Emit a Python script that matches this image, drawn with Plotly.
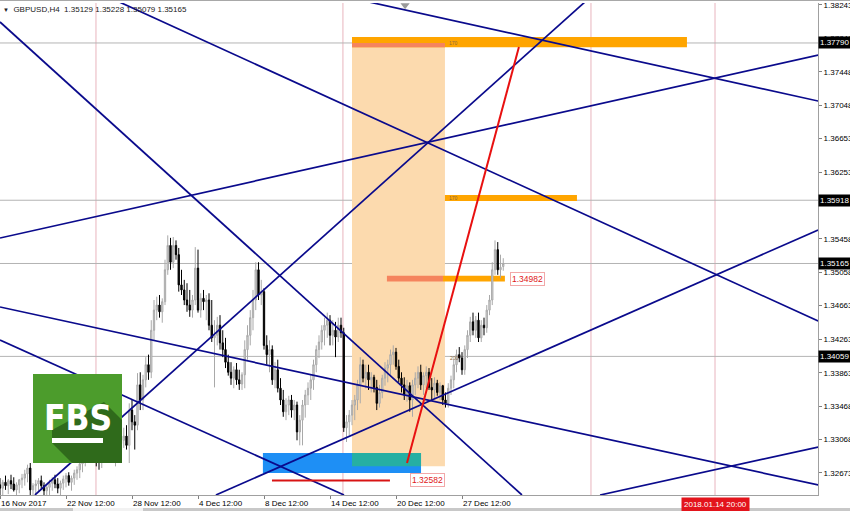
import plotly.graph_objects as go

# ---------------- data (bar index, price) ----------------
bar_index = list(range(184))
opens = [1.3253,1.3249,1.3256,1.3252,1.3258,1.3254,1.3247,1.3253,1.3259,1.3261,1.3266,1.3273,1.3247,1.3252,1.3254,1.3258,1.3252,1.3246,1.3250,1.3255,
1.3259,1.3254,1.3249,1.3255,1.3260,1.3264,1.3256,1.3261,1.3267,1.3271,1.3278,1.3285,1.3289,1.3295,1.3292,1.3287,1.3283,1.3280,1.3291,1.3299,
1.3296,1.3292,1.3287,1.3295,1.3302,1.3306,1.3311,1.3300,1.3342,1.3328,1.3324,1.3372,1.3354,1.3378,1.3396,1.3387,1.3437,1.3461,1.3467,1.3459,
1.3471,1.3509,1.3538,1.3518,1.3538,1.3527,1.3491,1.3485,1.3473,1.3467,1.3461,1.3473,1.3511,1.3461,1.3475,1.3471,1.3473,1.3443,1.3428,1.3431,
1.3443,1.3422,1.3414,1.3399,1.3387,1.3380,1.3390,1.3378,1.3373,1.3384,1.3414,1.3431,1.3452,1.3473,1.3509,1.3479,1.3483,1.3419,1.3408,1.3414,
1.3378,1.3390,1.3368,1.3354,1.3340,1.3348,1.3354,1.3342,1.3348,1.3316,1.3330,1.3348,1.3360,1.3368,1.3378,1.3396,1.3414,1.3423,1.3437,1.3443,
1.3449,1.3431,1.3437,1.3429,1.3443,1.3434,1.3321,1.3328,1.3336,1.3348,1.3354,1.3372,1.3396,1.3380,1.3387,1.3378,1.3381,1.3369,1.3350,1.3363,
1.3380,1.3392,1.3396,1.3408,1.3411,1.3394,1.3380,1.3372,1.3360,1.3371,1.3354,1.3372,1.3380,1.3387,1.3372,1.3383,1.3387,1.3369,1.3366,1.3374,
1.3363,1.3371,1.3354,1.3350,1.3368,1.3378,1.3396,1.3408,1.3404,1.3390,1.3414,1.3431,1.3447,1.3437,1.3449,1.3428,1.3443,1.3440,1.3461,1.3473,
1.3509,1.3533,1.3509,1.35129]
highs = [1.3261,1.3259,1.3264,1.3260,1.3265,1.3262,1.3256,1.3260,1.3266,1.3271,1.3277,1.3279,1.3255,1.3259,1.3261,1.3264,1.3256,1.3254,1.3259,1.3262,
1.3265,1.3261,1.3258,1.3264,1.3267,1.3268,1.3264,1.3271,1.3275,1.3283,1.3289,1.3295,1.3299,1.3302,1.3300,1.3297,1.3292,1.3295,1.3304,1.3309,
1.3306,1.3302,1.3299,1.3306,1.3316,1.3321,1.3324,1.3350,1.3354,1.3336,1.3386,1.3387,1.3384,1.3405,1.3408,1.3449,1.3473,1.3477,1.3479,1.3475,
1.3521,1.3550,1.3547,1.3548,1.3544,1.3535,1.3509,1.3497,1.3493,1.3485,1.3479,1.3536,1.3533,1.3481,1.3485,1.3479,1.3481,1.3473,1.3449,1.3453,
1.3455,1.3437,1.3428,1.3408,1.3399,1.3394,1.3398,1.3390,1.3387,1.3425,1.3443,1.3461,1.3485,1.3518,1.3518,1.3497,1.3487,1.3431,1.3425,1.3419,
1.3399,1.3402,1.3380,1.3366,1.3356,1.3359,1.3360,1.3354,1.3352,1.3336,1.3354,1.3366,1.3375,1.3384,1.3402,1.3419,1.3431,1.3443,1.3452,1.3458,
1.3455,1.3449,1.3447,1.3452,1.3452,1.3440,1.3336,1.3342,1.3354,1.3360,1.3378,1.3405,1.3402,1.3396,1.3396,1.3387,1.3384,1.3378,1.3372,1.3384,
1.3399,1.3402,1.3414,1.3419,1.3416,1.3402,1.3387,1.3381,1.3378,1.3375,1.3378,1.3387,1.3394,1.3396,1.3387,1.3394,1.3392,1.3380,1.3381,1.3378,
1.3375,1.3372,1.3363,1.3374,1.3383,1.3402,1.3414,1.3417,1.3411,1.3419,1.3437,1.3453,1.3458,1.3454,1.3458,1.3449,1.3452,1.3467,1.3479,1.3518,
1.3544,1.3542,1.3527,1.35228]
lows = [1.3237,1.3240,1.3247,1.3242,1.3248,1.3245,1.3237,1.3243,1.3249,1.3252,1.3256,1.3239,1.3235,1.3242,1.3245,1.3247,1.3239,1.3236,1.3241,1.3246,
1.3249,1.3243,1.3240,1.3247,1.3250,1.3252,1.3246,1.3253,1.3259,1.3261,1.3268,1.3275,1.3280,1.3285,1.3280,1.3275,1.3271,1.3273,1.3285,1.3289,
1.3283,1.3280,1.3275,1.3285,1.3292,1.3297,1.3295,1.3279,1.3318,1.3295,1.3318,1.3342,1.3342,1.3369,1.3378,1.3380,1.3425,1.3449,1.3452,1.3446,
1.3467,1.3503,1.3509,1.3511,1.3521,1.3483,1.3479,1.3467,1.3459,1.3453,1.3452,1.3467,1.3458,1.3452,1.3461,1.3449,1.3437,1.3423,1.3369,1.3419,
1.3414,1.3405,1.3392,1.3383,1.3372,1.3368,1.3372,1.3366,1.3366,1.3368,1.3402,1.3419,1.3437,1.3461,1.3473,1.3467,1.3414,1.3396,1.3387,1.3372,
1.3368,1.3363,1.3348,1.3334,1.3330,1.3336,1.3333,1.3330,1.3306,1.3300,1.3300,1.3333,1.3348,1.3354,1.3366,1.3387,1.3404,1.3414,1.3419,1.3428,
1.3419,1.3419,1.3405,1.3423,1.3428,1.3316,1.3304,1.3312,1.3324,1.3330,1.3342,1.3350,1.3375,1.3368,1.3366,1.3363,1.3363,1.3342,1.3345,1.3356,
1.3371,1.3375,1.3384,1.3396,1.3390,1.3375,1.3363,1.3354,1.3352,1.3340,1.3334,1.3360,1.3368,1.3366,1.3360,1.3368,1.3366,1.3354,1.3356,1.3359,
1.3354,1.3348,1.3345,1.3345,1.3360,1.3368,1.3387,1.3399,1.3384,1.3384,1.3404,1.3423,1.3431,1.3428,1.3423,1.3423,1.3431,1.3434,1.3455,1.3467,
1.3503,1.3503,1.3499,1.35079]
closes = [1.3249,1.3256,1.3252,1.3258,1.3254,1.3247,1.3253,1.3259,1.3261,1.3266,1.3273,1.3247,1.3252,1.3254,1.3258,1.3252,1.3246,1.3250,1.3255,1.3259,
1.3254,1.3249,1.3255,1.3260,1.3264,1.3256,1.3261,1.3267,1.3271,1.3278,1.3285,1.3289,1.3295,1.3292,1.3287,1.3283,1.3280,1.3291,1.3299,1.3296,
1.3292,1.3287,1.3295,1.3302,1.3306,1.3311,1.3300,1.3342,1.3328,1.3324,1.3372,1.3354,1.3378,1.3396,1.3387,1.3437,1.3461,1.3467,1.3459,1.3471,
1.3509,1.3538,1.3518,1.3538,1.3527,1.3491,1.3485,1.3473,1.3467,1.3461,1.3473,1.3511,1.3461,1.3475,1.3471,1.3473,1.3443,1.3428,1.3431,1.3443,
1.3422,1.3414,1.3399,1.3387,1.3380,1.3390,1.3378,1.3373,1.3384,1.3414,1.3431,1.3452,1.3473,1.3509,1.3479,1.3483,1.3419,1.3408,1.3414,1.3378,
1.3390,1.3368,1.3354,1.3340,1.3348,1.3354,1.3342,1.3348,1.3316,1.3330,1.3348,1.3360,1.3368,1.3378,1.3396,1.3414,1.3423,1.3437,1.3443,1.3449,
1.3431,1.3437,1.3429,1.3443,1.3434,1.3321,1.3328,1.3336,1.3348,1.3354,1.3372,1.3396,1.3380,1.3387,1.3378,1.3381,1.3369,1.3350,1.3363,1.3380,
1.3392,1.3396,1.3408,1.3411,1.3394,1.3380,1.3372,1.3360,1.3371,1.3354,1.3372,1.3380,1.3387,1.3372,1.3383,1.3387,1.3369,1.3366,1.3374,1.3363,
1.3371,1.3354,1.3350,1.3368,1.3378,1.3396,1.3408,1.3404,1.3390,1.3414,1.3431,1.3447,1.3437,1.3449,1.3428,1.3443,1.3440,1.3461,1.3473,1.3509,
1.3533,1.3509,1.3512,1.35165]

date_tick_bars = [0, 24, 48, 72, 96, 120, 144, 168]
date_tick_labels = ["16 Nov 2017", "22 Nov 12:00", "28 Nov 12:00", "4 Dec 12:00",
                    "8 Dec 12:00", "14 Dec 12:00", "20 Dec 12:00", "27 Dec 12:00"]
price_ticks = [1.38243, 1.37848, 1.37448, 1.37048, 1.36653, 1.36253, 1.35458,
               1.35058, 1.34663, 1.34263, 1.33863, 1.33468, 1.33068, 1.32673]
price_tick_labels = ["1.38243", "1.37848", "1.37448", "1.37048", "1.36653", "1.36253", "1.35458",
                     "1.35058", "1.34663", "1.34263", "1.33863", "1.33468", "1.33068", "1.32673"]

level_prices = [1.37790, 1.35918, 1.35165, 1.34059]
level_labels = ["1.37790", "1.35918", "1.35165", "1.34059"]
separator_bars = [34.9, 124.7, 214.9, 260.0]

# trend lines: start bar, start price, end bar, end price
trend_x0 = [0.0, 41.8, 130.9, 12.7, 0.0, 78.5, 0.0, 0.0, 218.2]
trend_p0 = [1.38040, 1.38302, 1.38302, 1.32409, 1.35468, 1.32409, 1.34254, 1.34647, 1.32409]
trend_x1 = [189.8, 297.5, 297.5, 213.5, 297.5, 297.5, 125.1, 297.5, 297.5]
trend_p1 = [1.32409, 1.34480, 1.37099, 1.38302, 1.37647, 1.35564, 1.32409, 1.32528, 1.32980]
red_line_bars = [148.0, 188.7]
red_line_prices = [1.32790, 1.37742]

# zones: bar from, bar to, price low, price high, colour
zone_x0 = [128.0, 95.6, 128.0, 128.0, 128.0, 161.8, 161.1, 140.7]
zone_x1 = [161.8, 153.1, 153.1, 249.8, 161.8, 209.8, 183.6, 161.1]
zone_p0 = [1.3275, 1.3267, 1.3275, 1.3774, 1.3774, 1.3591, 1.3495, 1.3495]
zone_p1 = [1.3779, 1.3291, 1.3291, 1.3786, 1.3779, 1.3598, 1.3502, 1.3502]
zone_colors = ["#FCDAAE", "#1E8FF5", "#26AFA3", "#FFA500", "#F5845E", "#FFA500", "#FFA500", "#F5845E"]

support_bars = [98.9, 141.8]
support_price = 1.32582
label_bars = [149.0, 185.5]
label_prices = [1.32582, 1.34982]
label_texts = ["1.32582", "1.34982"]
fib_bars = [162.5, 162.5, 163.0]
fib_prices = [1.3779, 1.3594, 1.3404]
fib_texts = ["170", "170", "200"]

# ---------------- figure ----------------
W, H = 850, 511
ML, MR, MT, MB = 0, 32, 3, 16
PW, PH = W - ML - MR, H - MT - MB
FONT = "Liberation Sans, Arial, sans-serif"
LOGO_FONT = "DejaVu Sans Condensed, DejaVu Sans, sans-serif"
NAVY = "#0A0A8C"


def px(x):
    return (x - ML) / PW


def py(y):
    return (H - MB - y) / PH


fig = go.Figure()

fig.add_trace(go.Candlestick(
    x=bar_index, open=opens, high=highs, low=lows, close=closes,
    increasing=dict(line=dict(color="#A9A9A9", width=1), fillcolor="#D6D6D6"),
    decreasing=dict(line=dict(color="#000000", width=1), fillcolor="#000000"),
    whiskerwidth=0, hoverinfo="skip", showlegend=False))

for x0, p0, x1, p1 in zip(trend_x0, trend_p0, trend_x1, trend_p1):
    fig.add_trace(go.Scatter(x=[x0, x1], y=[p0, p1], mode="lines",
                             line=dict(color=NAVY, width=1.7), hoverinfo="skip", showlegend=False))

fig.add_trace(go.Scatter(x=support_bars, y=[support_price, support_price], mode="lines",
                         line=dict(color="#D81414", width=2), hoverinfo="skip", showlegend=False))
fig.add_trace(go.Scatter(x=red_line_bars, y=red_line_prices, mode="lines",
                         line=dict(color="#E81010", width=2), hoverinfo="skip", showlegend=False))
fig.add_trace(go.Scatter(x=[147.3], y=[1.3824], mode="markers", cliponaxis=False,
                         marker=dict(symbol="triangle-down", size=8, color="#9A9A9A"),
                         hoverinfo="skip", showlegend=False))

shapes = []
for x0, x1, p0, p1, c in zip(zone_x0, zone_x1, zone_p0, zone_p1, zone_colors):
    shapes.append(dict(type="rect", xref="x", yref="y", x0=x0, x1=x1, y0=p0, y1=p1,
                       fillcolor=c, line=dict(width=0), layer="below"))
for b in separator_bars:
    shapes.append(dict(type="line", xref="x", yref="paper", x0=b, x1=b, y0=0, y1=1,
                       line=dict(color="#E8B4BE", width=1), layer="below"))
for p in level_prices:
    shapes.append(dict(type="line", xref="paper", yref="y", x0=0, x1=1, y0=p, y1=p,
                       line=dict(color="#B4B4B4", width=1), layer="below"))

# frame decorations
shapes.append(dict(type="line", xref="paper", yref="paper", x0=0, x1=px(W), y0=py(0.5), y1=py(0.5),
                   line=dict(color="#A8A8A8", width=1)))
shapes.append(dict(type="rect", xref="paper", yref="paper", x0=0, x1=px(W), y0=py(511), y1=py(508),
                   fillcolor="#C8C8C8", line=dict(width=0)))
shapes.append(dict(type="rect", xref="paper", yref="paper", x0=px(73), x1=px(143), y0=py(511), y1=py(508),
                   fillcolor="#F2F2F2", line=dict(width=0)))

# FBS logo
shapes.append(dict(type="rect", xref="paper", yref="paper", x0=px(33), x1=px(122), y0=py(463), y1=py(374),
                   fillcolor="#4C9C2C", line=dict(width=0), layer="above"))
pts = [(52, 430), (104, 402), (122, 420), (122, 463), (72, 463), (52, 443)]
path = "M " + " L ".join(f"{px(a):.5f},{py(b):.5f}" for a, b in pts) + " Z"
shapes.append(dict(type="path", xref="paper", yref="paper", path=path,
                   fillcolor="#2F6A1B", line=dict(width=0), layer="above"))
shapes.append(dict(type="rect", xref="paper", yref="paper", x0=px(52), x1=px(103), y0=py(443), y1=py(438),
                   fillcolor="white", line=dict(width=0), layer="above"))

annotations = [
    dict(xref="paper", yref="paper", x=px(78), y=py(418), text="<b>FBS</b>", showarrow=False,
         font=dict(family=LOGO_FONT, size=35, color="white"), xanchor="center", yanchor="middle"),
    dict(xref="paper", yref="paper", x=px(1), y=py(9), xanchor="left", yanchor="middle", showarrow=False,
         text="<span style='font-size:6px'>▼</span>  GBPUSD,H4  1.35129 1.35228 1.35079 1.35165",
         font=dict(family=FONT, size=8, color="#202020")),
    dict(xref="x", yref="paper", x=681 / 2.75, y=py(497), xanchor="left", yanchor="top", showarrow=False,
         text="2018.01.14 20:00", bgcolor="#E3141C", borderpad=2,
         font=dict(family=FONT, size=8, color="white")),
]
for p, t in zip(level_prices, level_labels):
    annotations.append(dict(xref="paper", yref="y", x=1, y=p, xanchor="left", yanchor="middle",
                            showarrow=False, text=t, bgcolor="black", borderpad=1, xshift=0,
                            font=dict(family=FONT, size=8, color="white")))
for b, p, t in zip(label_bars, label_prices, label_texts):
    annotations.append(dict(xref="x", yref="y", x=b, y=p, xanchor="left", yanchor="middle",
                            showarrow=False, text=t, bgcolor="white", bordercolor="#F2A8A8",
                            borderwidth=1, borderpad=1, font=dict(family=FONT, size=8.5, color="#E01818")))
for b, p, t in zip(fib_bars, fib_prices, fib_texts):
    annotations.append(dict(xref="x", yref="y", x=b, y=p, xanchor="left", yanchor="middle",
                            showarrow=False, text=t, font=dict(family=FONT, size=5, color="#8A6A40")))

fig.update_layout(
    width=W, height=H, margin=dict(l=ML, r=MR, t=MT, b=MB, pad=0, autoexpand=False),
    paper_bgcolor="white", plot_bgcolor="white", showlegend=False, hovermode=False,
    shapes=shapes, annotations=annotations,
    xaxis=dict(range=[0, PW / 2.75], tickmode="array", tickvals=date_tick_bars, ticktext=date_tick_labels,
               ticklabelposition="outside right", ticks="outside", ticklen=3, tickcolor="#808080",
               tickangle=0, automargin=False, ticklabeloverflow="allow",
               showgrid=False, zeroline=False, showline=True, linecolor="#A0A0A0", linewidth=1,
               rangeslider=dict(visible=False), tickfont=dict(family=FONT, size=8, color="black"),
               fixedrange=True),
    yaxis=dict(range=[1.32409, 1.38266], side="right", tickmode="array", tickvals=price_ticks,
               ticktext=price_tick_labels, ticks="outside", ticklen=3, tickcolor="#808080",
               automargin=False, ticklabeloverflow="allow",
               showgrid=False, zeroline=False, showline=True, linecolor="#A0A0A0", linewidth=1,
               tickfont=dict(family=FONT, size=8, color="black"), fixedrange=True),
)

fig.write_html("out.html", config={"displayModeBar": False},
               post_script="document.body.style.margin='0px';document.body.style.padding='0px';"
                           "document.body.style.overflow='hidden';")
